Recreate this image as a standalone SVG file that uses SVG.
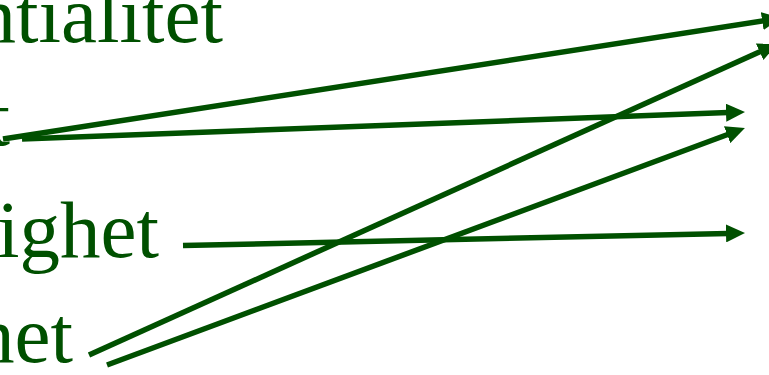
<svg xmlns="http://www.w3.org/2000/svg" width="769" height="375" viewBox="0 0 769 375">
  <style>
    .lbl { font-family: "Liberation Serif", "Times New Roman", serif; font-size: 81px; fill: #005000; text-anchor: end; }
    .conn { stroke: #005000; stroke-width: 5.5; fill: none; marker-end: url(#arrow); }
  </style>
  <defs>
    <marker id="arrow" markerUnits="userSpaceOnUse" markerWidth="19" markerHeight="18" viewBox="0 0 19 18" refX="2" refY="9" orient="auto">
      <path d="M0,0 L19,9 L0,18 Z" fill="#005000"/>
    </marker>
  </defs>
  <rect width="769" height="375" fill="#ffffff"/>
  <g id="node-1"><text class="lbl" x="223" y="42">ntialitet</text></g>
  <g id="node-2"><text class="lbl" x="10" y="145">t</text></g>
  <g id="node-3"><text class="lbl" x="159" y="257">ighet</text></g>
  <g id="node-4"><text class="lbl" x="73" y="362">het</text></g>
  <g id="connectors">
    <line class="conn" x1="3" y1="139" x2="764.2" y2="20.7"/>
    <line class="conn" x1="22" y1="139" x2="728" y2="112.6"/>
    <line class="conn" x1="183" y1="245.5" x2="728" y2="233.4"/>
    <line class="conn" x1="89" y1="355" x2="761.5" y2="51"/>
    <line class="conn" x1="107" y1="365" x2="729" y2="134"/>
  </g>
</svg>
